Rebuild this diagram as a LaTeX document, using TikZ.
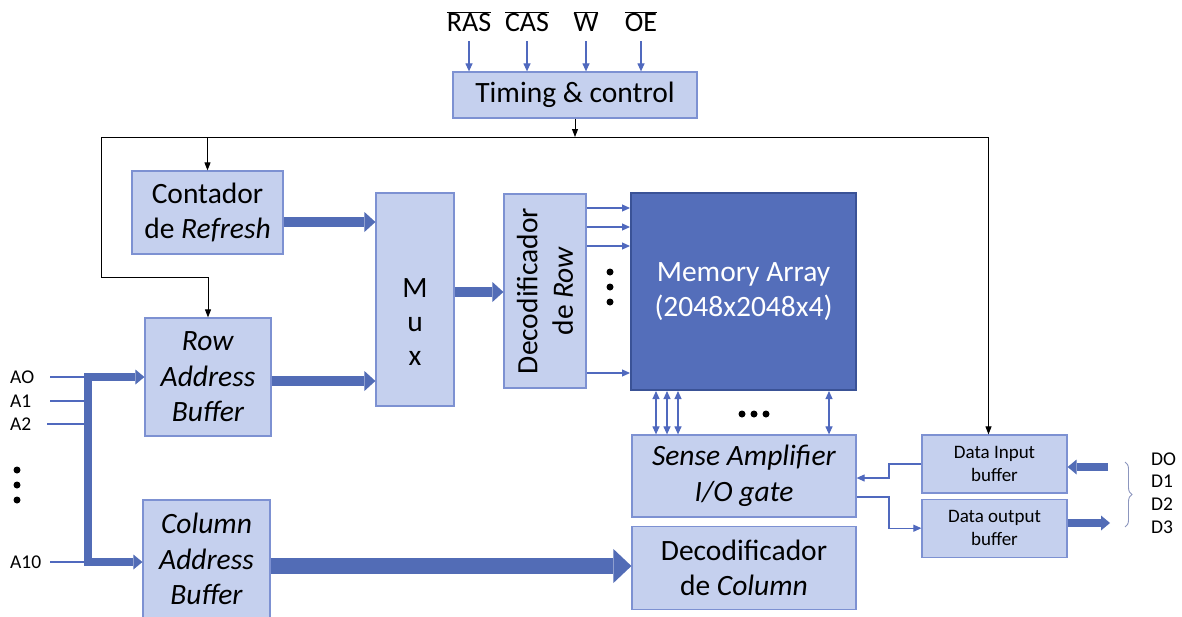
\documentclass[tikz,border=0pt]{standalone}
\usepackage{fontspec}
\setmainfont{Carlito}
\usetikzlibrary{arrows.meta, positioning, decorations.pathreplacing}
\definecolor{boxblue}{RGB}{197,208,238}
\definecolor{edgeblue}{RGB}{125,145,210}
\definecolor{arrayblue}{RGB}{84,110,186}
\definecolor{arrayedge}{RGB}{58,82,150}
\definecolor{busblue}{RGB}{82,108,182}
\definecolor{sigblue}{RGB}{80,105,190}
\definecolor{bracegray}{RGB}{140,150,190}

\begin{document}
\begin{tikzpicture}[
    x=1pt, y=-1pt,
    box/.style={rectangle, draw=edgeblue, fill=boxblue, line width=1.2pt, align=center, inner sep=0pt, font=\fontsize{29.5}{35.5}\selectfont},
    smallbox/.style={box, font=\fontsize{19}{23}\selectfont},
    arraybox/.style={rectangle, draw=arrayedge, fill=arrayblue, line width=2pt, align=center, text=white, font=\fontsize{29.5}{35.5}\selectfont},
    pinlabel/.style={font=\fontsize{19.5}{22}\selectfont, inner sep=0pt, anchor=west},
    ctrllabel/.style={font=\fontsize{28}{30}\selectfont, inner sep=3pt, anchor=south},
    sig/.style={-{Triangle[length=8pt,width=7pt]}, sigblue, line width=1.1pt},
    dualsig/.style={{Triangle[length=8pt,width=7pt]}-{Triangle[length=8pt,width=7pt]}, sigblue, line width=1.1pt},
    addr/.style={sigblue, line width=1.1pt},
    ctl/.style={-{Triangle[length=8pt,width=6pt]}, black, line width=0.9pt},
    bus/.style={-{Triangle[length=11pt,width=20pt,line width=0pt]}, busblue, line width=10pt},
    thinbus/.style={-{Triangle[length=9pt,width=15pt,line width=0pt]}, busblue, line width=8pt},
    widebus/.style={-{Triangle[length=18pt,width=34pt,line width=0pt]}, busblue, line width=16pt},
    dot/.style={black},
    brace/.style={decorate, decoration={brace, amplitude=7pt}, bracegray, line width=0.9pt}
]
\useasboundingbox (0,0) rectangle (1182,616);

% Control
\node[box, minimum width=244pt, minimum height=46pt] (timing) at (575,95) {Timing \& control};
\node[ctrllabel] (ras) at (469,35) {$\overline{\mbox{RAS}}$};
\node[ctrllabel] (cas) at (527,35) {$\overline{\mbox{CAS}}$};
\node[ctrllabel] (w) at (586,35) {$\overline{\mbox{W}}$};
\node[ctrllabel] (oe) at (641,35) {$\overline{\mbox{OE}}$};

% Row path
\node[box, minimum width=151pt, minimum height=83pt] (refresh) at (207.5,212.5) {Contador\\de \textit{Refresh}};
\node[box, minimum width=126pt, minimum height=118pt] (rowbuf) at (208,377) {\textit{Row}\\\textit{Address}\\\textit{Buffer}};
\node[box, minimum width=78pt, minimum height=213pt] (mux) at (415,299.5) {};
\node[align=center, font=\fontsize{29.5}{34}\selectfont] (muxtext) at (415,322) {M\\u\\x};
\node[box, minimum width=82pt, minimum height=194pt] (rowdec) at (545,291) {};
\node[rotate=90, align=center, font=\fontsize{29.5}{35.5}\selectfont] (rowdectext) at (rowdec.center) {Decodificador\\de \textit{Row}};
\node[arraybox, minimum width=225pt, minimum height=197pt] (mem) at (743.5,291.5) {Memory Array\\(2048x2048x4)};

% Column path
\node[box, minimum width=127pt, minimum height=118pt] (colbuf) at (206.5,559) {\textit{Column}\\\textit{Address}\\\textit{Buffer}};
\node[box, minimum width=224pt, minimum height=82pt] (sense) at (744,476) {\textit{Sense Amplifier}\\\textit{I/O gate}};
\node[box, minimum width=224pt, minimum height=83pt, below=8pt of sense] (coldec) {Decodificador\\de \textit{Column}};

% Data buffers
\node[smallbox, minimum width=145pt, minimum height=58pt] (din) at (994.5,464) {Data Input\\buffer};
\node[smallbox, minimum width=145pt, minimum height=58pt, below=5pt of din] (dout) {Data output\\buffer};

% Pins
\node[pinlabel] (a0) at (10,377) {AO};
\node[pinlabel] (a1) at (10,401) {A1};
\node[pinlabel] (a2) at (10,424) {A2};
\node[pinlabel] (a10) at (10,562) {A10};
\node[pinlabel] (d0) at (1151,459) {DO};
\node[pinlabel] (d1) at (1151,481) {D1};
\node[pinlabel] (d2) at (1151,504) {D2};
\node[pinlabel] (d3) at (1151,527) {D3};

\coordinate (linestart) at (50,0);
\coordinate (bustop) at (88,377);
\coordinate (busbot) at (88,562);
\coordinate (ctltop) at (101,137);
\coordinate (ctlbot) at (101,277);
\coordinate (ioturn) at (889,0);
\coordinate (bracetop) at (1125,462);
\coordinate (bracebot) at (1125,527);

% Control arrows
\draw[sig] (ras.south |- 0,41) -- (ras |- timing.north);
\draw[sig] (cas.south |- 0,41) -- (cas |- timing.north);
\draw[sig] (w.south |- 0,41) -- (w |- timing.north);
\draw[sig] (oe.south |- 0,41) -- (oe |- timing.north);
\draw[ctl] (timing.south) -- (timing.south |- ctltop);
\draw[ctl] (ctlbot) -- (ctltop) -| ([xshift=-6pt]din.north);
\draw[ctl] (ctlbot) -| (rowbuf.north);
\draw[ctl] (refresh.north |- ctltop) -- (refresh.north);

% Address bus
\draw[addr] (a0 -| linestart) -- (a0 -| bustop);
\draw[addr] (a1 -| linestart) -- (a1 -| bustop);
\draw[addr] ([xshift=-3pt]a2 -| linestart) -- (a2 -| bustop);
\draw[addr] (a10 -| linestart) -- (a10 -| bustop);
\draw[thinbus] (busbot) -- (bustop) -- (bustop -| rowbuf.west);
\draw[thinbus] (bustop) -- (busbot) -- (busbot -| colbuf.west);
\foreach \y in {470,485,500} \fill[dot] (17,\y) circle (3.5pt);

% Wide arrows
\draw[bus] (refresh.east |- 0,222) -- (mux.west |- 0,222);
\draw[bus] (rowbuf.east |- 0,381) -- (mux.west |- 0,381);
\draw[bus] (mux.east |- 0,292) -- (rowdec.west |- 0,292);
\draw[widebus] (colbuf.east |- 0,566) -- (coldec.west |- 0,566);

% Row lines into the array
\foreach \y in {208,227,246,373} \draw[sig] (rowdec.east |- 0,\y) -- (mem.west |- 0,\y);
\foreach \y in {272,287,302} \fill[dot] (610,\y) circle (3.5pt);

% Bit lines
\foreach \x in {656,667,678,829} \draw[dualsig] (mem.south -| \x,0) -- (sense.north -| \x,0);
\foreach \x in {742,754,766} \fill[dot] (\x,414) circle (3.5pt);

% Data path
\draw[sig] (din.west) -| (ioturn |- 0,478) -- (sense.east |- 0,478);
\draw[sig] (sense.east |- 0,497) -| (ioturn |- dout.west) -- (dout.west);
\draw[thinbus] (1108,467) coordinate (dinpin) -- (din.east |- dinpin);
\draw[thinbus] (dout.east |- 0,523) -- (1110,523) coordinate (doutpin);
\draw[brace] (bracetop) -- (bracebot);

\end{tikzpicture}
\end{document}
